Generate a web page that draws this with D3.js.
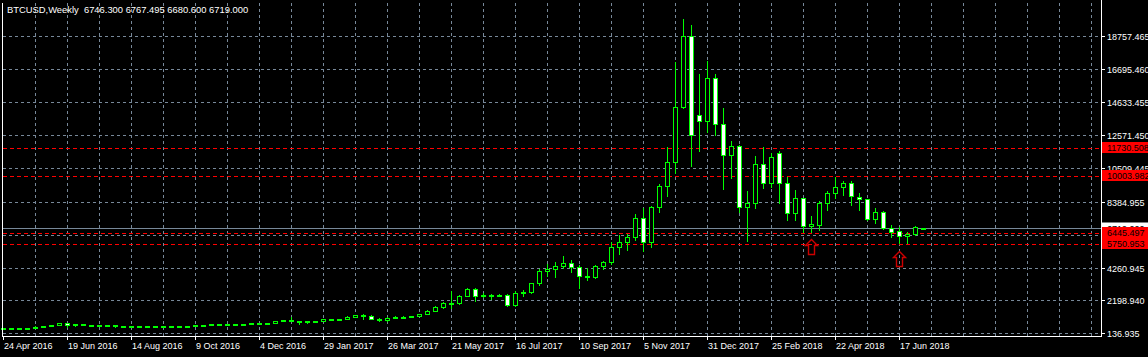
<!DOCTYPE html>
<html><head><meta charset="utf-8">
<script src="https://cdn.jsdelivr.net/npm/d3@7"></script>
<style>
html,body{margin:0;padding:0;background:#000;overflow:hidden;}
svg{display:block;font-family:"Liberation Sans",Arial,sans-serif;}
text{font-size:9px;}
</style></head><body>
<svg id="chart" width="1148" height="357"></svg>
<script>
const symbol = "BTCUSD,Weekly";
const dates = [
"2016-04-24","2016-05-01","2016-05-08","2016-05-15","2016-05-22","2016-05-29","2016-06-05","2016-06-12","2016-06-19","2016-06-26",
"2016-07-03","2016-07-10","2016-07-17","2016-07-24","2016-07-31","2016-08-07","2016-08-14","2016-08-21","2016-08-28","2016-09-04",
"2016-09-11","2016-09-18","2016-09-25","2016-10-02","2016-10-09","2016-10-16","2016-10-23","2016-10-30","2016-11-06","2016-11-13",
"2016-11-20","2016-11-27","2016-12-04","2016-12-11","2016-12-18","2016-12-25","2017-01-01","2017-01-08","2017-01-15","2017-01-22",
"2017-01-29","2017-02-05","2017-02-12","2017-02-19","2017-02-26","2017-03-05","2017-03-12","2017-03-19","2017-03-26","2017-04-02",
"2017-04-09","2017-04-16","2017-04-23","2017-04-30","2017-05-07","2017-05-14","2017-05-21","2017-05-28","2017-06-04","2017-06-11",
"2017-06-18","2017-06-25","2017-07-02","2017-07-09","2017-07-16","2017-07-23","2017-07-30","2017-08-06","2017-08-13","2017-08-20",
"2017-08-27","2017-09-03","2017-09-10","2017-09-17","2017-09-24","2017-10-01","2017-10-08","2017-10-15","2017-10-22","2017-10-29",
"2017-11-05","2017-11-12","2017-11-19","2017-11-26","2017-12-03","2017-12-10","2017-12-17","2017-12-24","2017-12-31","2018-01-07",
"2018-01-14","2018-01-21","2018-01-28","2018-02-04","2018-02-11","2018-02-18","2018-02-25","2018-03-04","2018-03-11","2018-03-18",
"2018-03-25","2018-04-01","2018-04-08","2018-04-15","2018-04-22","2018-04-29","2018-05-06","2018-05-13","2018-05-20","2018-05-27",
"2018-06-03","2018-06-10","2018-06-17","2018-06-24","2018-07-01","2018-07-08"];
const opens = [
452,462,458,455,442,560,578,665,760,660,
700,650,660,665,655,590,570,580,575,605,
608,606,600,610,618,640,655,700,705,705,
740,735,765,775,800,890,1000,905,820,920,
920,1020,1005,1055,1180,1270,1230,1020,970,1120,
1180,1180,1240,1340,1560,1760,2010,2050,2500,2900,
2480,2520,2500,2510,1900,2660,2700,3260,4040,4150,
4380,4520,4270,3705,3660,4330,4580,5540,5830,6190,
7340,5880,8050,9400,10846,14354,18800,13853,13477,16170,
13290,11285,11911,8066,8280,10720,9570,11470,9590,7650,
8592,6876,6920,8280,8905,9280,9530,8690,8530,7320,
7734,6713,6545,6230,6338,6746.300];
const highs = [
470,470,465,460,565,590,670,780,770,705,
705,680,680,670,660,600,590,585,615,612,
612,612,615,620,645,660,720,740,715,750,
745,770,780,805,930,1000,1130,915,925,930,
1030,1060,1060,1200,1290,1330,1260,1090,1130,1200,
1220,1250,1350,1570,1840,2100,2800,2560,2980,2980,
2680,2620,2620,2600,2780,2830,3300,4150,4480,4620,
4960,4710,4415,4210,4415,4665,5870,6290,6355,7610,
8000,8110,9490,11805,17147,19822,19446,16420,17190,16420,
14290,12180,11930,9050,11240,11786,11450,11550,9907,9150,
8650,7520,8420,9050,9946,9690,9676,8905,8567,7966,
7790,6920,6813,6500,6876,6767.495];
const lows = [
440,445,448,438,438,520,570,660,560,610,
630,640,655,640,510,565,540,570,570,585,
602,595,598,606,612,635,650,690,700,700,
725,730,755,765,790,880,880,750,790,880,
900,950,995,1050,1160,1020,1010,900,930,1080,
1150,1170,1230,1330,1540,1730,1700,2000,2450,2150,
2410,2300,2450,1840,1830,2480,2650,3170,3750,3650,
4210,3960,2990,3475,3580,4150,4500,5120,5354,5980,
5310,5520,7750,8755,10195,14270,10633,11573,12763,12575,
9193,9882,7750,5936,8004,9256,9320,8316,7233,7233,
6500,6500,6600,7860,8592,8800,8173,7860,7233,7026,
6650,6150,5773,5773,6293,6680.600];
const closes = [
462,458,455,442,560,578,665,760,660,700,
650,660,665,655,590,570,580,575,605,608,
606,600,610,618,640,655,700,705,705,740,
735,765,775,800,890,1000,905,820,920,920,
1020,1005,1055,1180,1270,1230,1020,970,1120,1180,
1180,1240,1340,1560,1760,2010,2050,2500,2900,2480,
2520,2500,2510,1900,2660,2700,3260,4040,4150,4380,
4520,4270,3705,3660,4330,4580,5540,5830,6190,7340,
5880,8050,9400,10846,14354,18800,12600,13477,16170,13290,
11285,11911,8066,8297,10740,9570,11160,9590,7650,8592,
6876,6960,8280,8905,9280,9530,8736,8530,7320,7734,
6713,6500,6230,6338,6776,6719.000];

const dateTicks = ["2016-04-24","2016-06-19","2016-08-14","2016-10-09","2016-12-04","2017-01-29","2017-03-26","2017-05-21","2017-07-16","2017-09-10","2017-11-05","2017-12-31","2018-02-25","2018-04-22","2018-06-17"];
const dateTickLabels = ["24 Apr 2016","19 Jun 2016","14 Aug 2016","9 Oct 2016","4 Dec 2016","29 Jan 2017","26 Mar 2017","21 May 2017","16 Jul 2017","10 Sep 2017","5 Nov 2017","31 Dec 2017","25 Feb 2018","22 Apr 2018","17 Jun 2018"];
const gridDates = dates.filter((d,i)=> i % 4 === 0);
const gridPrices = [136.935,2198.940,4260.945,6322.950,8384.955,10509.445,12571.450,14633.455,16695.460,18757.465];
const priceLabels = ["136.935","2198.940","4260.945",null,"8384.955","10509.445","12571.450","14633.455","16695.460","18757.465"];
const levelPrices = [11730.508,10003.982,6445.497,5750.953];
const levelLabels = ["11730.508","10003.982","6445.497","5750.953"];
const arrowDates = ["2018-04-01","2018-06-17"];
const arrowPrices = [6049,5297];

const svg = d3.select("#chart");
const W = 1148, H = 357;
const axisX = 1101, axisY = 336;

const x = d3.scalePoint().domain(dates).range([3, 923]);
const y = d3.scaleLinear().domain([136.935, 18757.465]).range([333.3, 36.3]);
const py = v => Math.round(y(v)) + 0.5;

svg.append("rect").attr("width",W).attr("height",H).attr("fill","#000");

const grid = svg.append("g").attr("stroke","#778899").attr("stroke-dasharray","3,3").attr("stroke-width",1);
grid.selectAll("line.h").data(gridPrices).join("line").attr("class","h")
  .attr("x1",3).attr("x2",axisX).attr("y1",d=>py(d)).attr("y2",d=>py(d));
grid.selectAll("line.v").data(gridDates.filter(d=>d!==dates[0])).join("line").attr("class","v")
  .attr("x1",d=>x(d)+0.5).attr("x2",d=>x(d)+0.5).attr("y1",3).attr("y2",axisY);
const xStep = x.step();
const extraCols = d3.range(x(gridDates[gridDates.length-1]) + 4*xStep, axisX, 4*xStep);
grid.selectAll("line.v2").data(extraCols).join("line").attr("class","v2")
  .attr("x1",d=>d+0.5).attr("x2",d=>d+0.5).attr("y1",3).attr("y2",axisY);

// level lines
svg.append("g").selectAll("line").data(levelPrices).join("line")
  .attr("x1",3).attr("x2",axisX).attr("y1",d=>py(d)).attr("y2",d=>py(d))
  .attr("stroke","#ff0000").attr("stroke-dasharray","4,3");

// bid line
const lastClose = closes[closes.length-1];
svg.append("line").attr("x1",3).attr("x2",axisX).attr("y1",py(lastClose)).attr("y2",py(lastClose))
  .attr("stroke","#778899");

// candles
const data = dates.map((d,i)=>({d,o:opens[i],h:highs[i],l:lows[i],c:closes[i]}));
const cg = svg.append("g");
cg.selectAll("line").data(data).join("line")
  .attr("x1",d=>x(d.d)+0.5).attr("x2",d=>x(d.d)+0.5)
  .attr("y1",d=>Math.round(y(d.h))).attr("y2",d=>Math.round(y(d.l))+1)
  .attr("stroke","#00ff00");
const bodyTop = d => Math.round(y(Math.max(d.o,d.c)));
const bodyH = d => Math.max(1, Math.round(y(Math.min(d.o,d.c))) - bodyTop(d));
cg.selectAll("rect").data(data).join("rect")
  .attr("x",d=>x(d.d)-1.5)
  .attr("y",d=>bodyTop(d)+0.5)
  .attr("width",4)
  .attr("height",bodyH)
  .attr("fill",d=>d.c>=d.o ? "#000" : "#fff")
  .attr("stroke","#00ff00");

// arrows
svg.append("g").selectAll("path").data(arrowDates.map((d,i)=>({d,p:arrowPrices[i]}))).join("path")
  .attr("d",a=>{const cx=x(a.d)+0.5, ty=Math.round(y(a.p))+0.5;
    return `M${cx},${ty} L${cx+6},${ty+6} L${cx+3},${ty+6} L${cx+3},${ty+15} L${cx-3},${ty+15} L${cx-3},${ty+6} L${cx-6},${ty+6} Z`;})
  .attr("fill","none").attr("stroke","#cc0000").attr("stroke-width",1.4);

// frame
svg.append("line").attr("x1",2.5).attr("x2",2.5).attr("y1",3).attr("y2",axisY+0.5).attr("stroke","#fff");
svg.append("line").attr("x1",2).attr("x2",axisX+1).attr("y1",axisY+0.5).attr("y2",axisY+0.5).attr("stroke","#fff");
svg.append("line").attr("x1",axisX+0.5).attr("x2",axisX+0.5).attr("y1",0).attr("y2",axisY+1).attr("stroke","#fff");

// price axis
const pa = svg.append("g");
gridPrices.forEach((p,i)=>{
  if(!priceLabels[i]) return;
  pa.append("line").attr("x1",axisX).attr("x2",axisX+4).attr("y1",py(p)).attr("y2",py(p)).attr("stroke","#fff");
  pa.append("text").attr("x",axisX+6).attr("y",Math.round(y(p))+3.5).attr("fill","#fff").text(priceLabels[i]);
});

// bid label (white)
const bg = svg.append("g");
bg.append("rect").attr("x",axisX+1).attr("y",Math.round(y(lastClose))-5.5).attr("width",W-axisX).attr("height",11).attr("fill","#fff");
bg.append("text").attr("x",axisX+6).attr("y",Math.round(y(lastClose))+3.5).attr("fill","#000").text(d3.format(".3f")(lastClose));

// level labels
const lg = svg.append("g");
levelPrices.forEach((p,i)=>{
  const cy = Math.round(y(p));
  lg.append("rect").attr("x",axisX+1).attr("y",cy-6).attr("width",W-axisX).attr("height",11).attr("fill","#ff0000");
  lg.append("text").attr("x",axisX+6).attr("y",cy+3).attr("fill","#000").text(levelLabels[i]);
});

// date axis
const da = svg.append("g");
dateTicks.forEach((d,i)=>{
  const tx = x(d)+0.5;
  da.append("line").attr("x1",tx).attr("x2",tx).attr("y1",axisY).attr("y2",axisY+4).attr("stroke","#fff");
  da.append("text").attr("x",x(d)+1).attr("y",349).attr("fill","#fff").text(dateTickLabels[i]);
});

// title
const f = d3.format(".3f");
const n = dates.length-1;
svg.append("text").attr("x",7).attr("y",13).attr("fill","#fff").style("font-size","9.4px").attr("xml:space","preserve")
  .text(`${symbol}  ${f(opens[n])} ${f(highs[n])} ${f(lows[n])} ${f(closes[n])}`);
</script>
</body></html>
